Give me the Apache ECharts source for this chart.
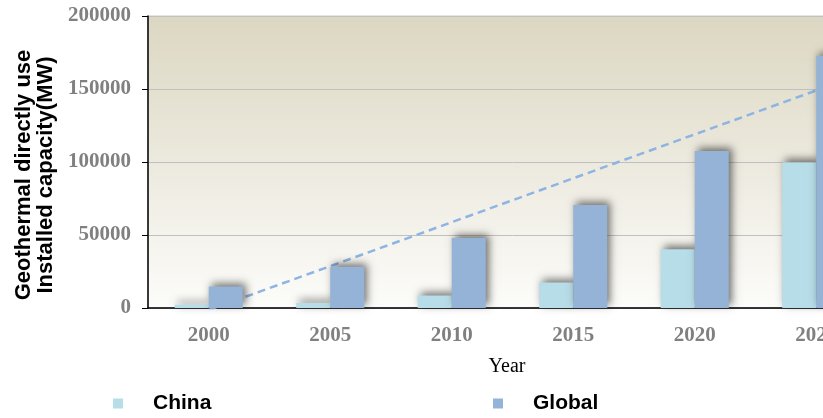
<!DOCTYPE html>
<html>
<head>
<meta charset="utf-8">
<script src="https://cdn.jsdelivr.net/npm/echarts@6/dist/echarts.min.js"></script>
<style>html,body{margin:0;padding:0;background:#fff;overflow:hidden;width:823px;height:418px;}#c{width:900px;height:418px;}</style>
</head>
<body>
<div id="c"></div>
<script>
const years = ['2000', '2005', '2010', '2015', '2020', '2025'];
const china = [2300, 3500, 8600, 17500, 40300, 99800];
const globalCap = [14800, 28300, 48000, 70500, 107600, 172800];
const trend = [-1400, null, null, null, null, 149000];
const yTicks = [0, 50000, 100000, 150000, 200000];

const chart = echarts.init(document.getElementById('c'));
const shadow = {shadowBlur: 8, shadowColor: 'rgba(0,0,0,0.55)', shadowOffsetX: 3, shadowOffsetY: -3};
chart.setOption({
  animation: false,
  grid: {
    left: 148, top: 16, width: 729, height: 292,
    show: true, borderColor: '#c8c8c8', borderWidth: 1,
    backgroundColor: new echarts.graphic.LinearGradient(0, 0, 0, 1, [
      {offset: 0, color: '#dcd7c2'}, {offset: 1, color: '#fcfcfa'}
    ])
  },
  xAxis: {
    type: 'category', data: years,
    axisLine: {lineStyle: {color: '#000', width: 1.5}},
    axisTick: {show: false},
    axisLabel: {fontFamily: 'Liberation Serif', fontWeight: 'bold', fontSize: 21, color: '#808080', margin: 17}
  },
  yAxis: {
    type: 'value', min: yTicks[0], max: yTicks[yTicks.length - 1], interval: 50000,
    axisLine: {show: true, lineStyle: {color: '#000', width: 1.5}},
    axisTick: {show: true, length: 6, lineStyle: {color: '#000'}},
    splitLine: {lineStyle: {color: '#c0c0c0', width: 1}},
    axisLabel: {fontFamily: 'Liberation Serif', fontWeight: 'bold', fontSize: 21, color: '#808080', margin: 17,
                formatter: v => String(v)}
  },
  legend: [
    {data: ['China'], left: 113, top: 393, padding: 0, itemWidth: 10, itemHeight: 10, icon: 'rect',
     textStyle: {fontFamily: 'Liberation Sans', fontWeight: 'bold', fontSize: 21, color: '#000', padding: [0, 0, 0, 25]}},
    {data: ['Global'], left: 493, top: 393, padding: 0, itemWidth: 10, itemHeight: 10, icon: 'rect',
     textStyle: {fontFamily: 'Liberation Sans', fontWeight: 'bold', fontSize: 21, color: '#000', padding: [0, 0, 0, 25]}}
  ],
  graphic: [
    {type: 'text', x: 35, y: 175, rotation: Math.PI / 2,
     style: {text: 'Geothermal directly use\nInstalled capacity(MW)', font: 'bold 22px "Liberation Sans"', fill: '#000',
             textAlign: 'center', textVerticalAlign: 'middle', lineHeight: 22}},
    {type: 'text', x: 507, y: 367,
     style: {text: 'Year', font: '20px "Liberation Serif"', fill: '#000', textAlign: 'center', textVerticalAlign: 'middle'}}
  ],
  series: [
    {name: 'Trend', type: 'line', data: trend, connectNulls: true, symbol: 'none', z: 1,
     lineStyle: {color: '#8eb4e3', width: 2.5, type: [8, 5]}},
    {name: 'China', type: 'bar', data: china, barGap: '0%', barCategoryGap: '44%', z: 2,
     itemStyle: Object.assign({color: '#b7dde8'}, shadow)},
    {name: 'Global', type: 'bar', data: globalCap, barGap: '0%', barCategoryGap: '44%', z: 2,
     itemStyle: Object.assign({color: '#95b3d7'}, shadow)}
  ]
});
</script>
</body>
</html>
